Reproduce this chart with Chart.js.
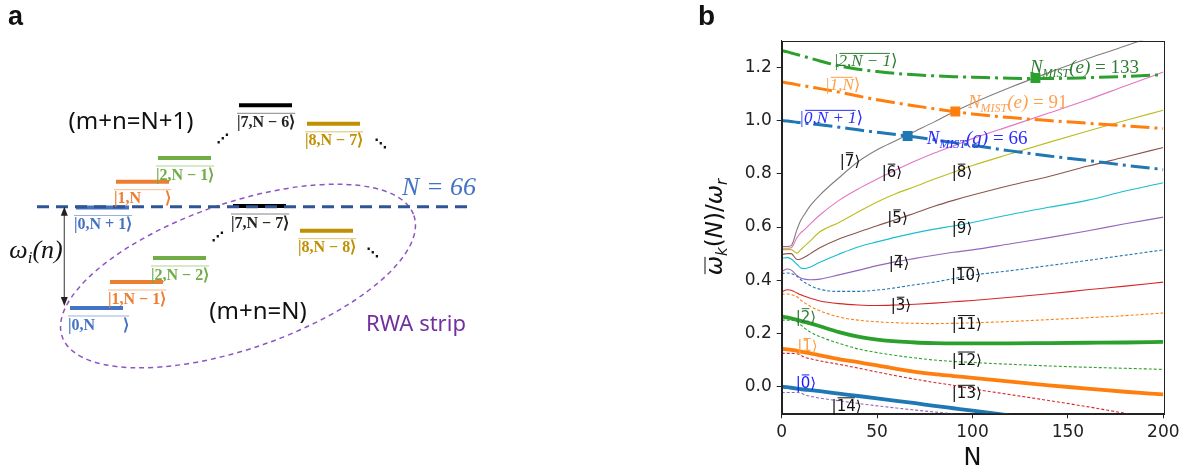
<!DOCTYPE html>
<html>
<head>
<meta charset="utf-8">
<script src="https://cdn.jsdelivr.net/npm/chart.js"></script>
<style>
  html, body { margin: 0; padding: 0; background: #fff; }
  #wrap { position: relative; width: 1192px; height: 474px; }
  #boxA { position: absolute; left: 0; top: 0; width: 680px; height: 474px; }
  #boxB { position: absolute; left: 680px; top: 0; width: 512px; height: 474px; }
</style>
</head>
<body>
<div id="wrap">
  <div id="boxA"><canvas id="diagram"></canvas></div>
  <div id="boxB"><canvas id="spectrum"></canvas></div>
</div>
<script>
// ---------- panel a: level scheme (diagram units) ----------
const upperKets  = ["|0,N + 1⟩", "|1,N      ⟩", "|2,N − 1⟩", "|7,N − 6⟩", "|8,N − 7⟩"];
const upperLevel = [26.65, 29.23, 31.6, 36.87, 35.02];
const upperSlot  = [7.6, 11.6, 15.8, 23.9, 30.7];
const lowerKets  = ["|0,N       ⟩", "|1,N − 1⟩", "|2,N − 2⟩", "|7,N − 7⟩", "|8,N − 8⟩"];
const lowerLevel = [16.6, 19.2, 21.6, 26.8, 24.33];
const lowerSlot  = [7.0, 11.0, 15.3, 23.3, 30.0];
const levelInk   = ["#4472c4", "#ed7d31", "#70ad47", "#000000", "#bf9000"];
const cutLevel   = 26.73;

// ---------- panel b: branches vs photon number ----------
const nGrid = [0, 3, 5, 8, 10, 12, 15, 20, 30, 40, 50, 60, 70, 80, 90, 100, 120, 140, 160, 180, 200];
const w0  = [0.0, -0.002, -0.004, -0.007, -0.009, -0.011, -0.013, -0.017, -0.026, -0.035, -0.044, -0.053, -0.062, -0.072, -0.081, -0.09, -0.109, -0.128, -0.147, -0.166, -0.185];
const w1  = [0.143, 0.14, 0.138, 0.135, 0.132, 0.129, 0.125, 0.118, 0.104, 0.092, 0.08, 0.067, 0.056, 0.047, 0.04, 0.033, 0.019, 0.005, -0.007, -0.019, -0.029];
const w2  = [0.264, 0.26, 0.257, 0.251, 0.247, 0.243, 0.238, 0.227, 0.205, 0.188, 0.177, 0.17, 0.166, 0.164, 0.163, 0.163, 0.163, 0.164, 0.165, 0.166, 0.168];
const w3  = [0.356, 0.364, 0.362, 0.352, 0.345, 0.34, 0.332, 0.322, 0.312, 0.307, 0.305, 0.307, 0.31, 0.314, 0.319, 0.324, 0.336, 0.349, 0.364, 0.378, 0.393];
const w4  = [0.433, 0.442, 0.438, 0.418, 0.408, 0.404, 0.402, 0.404, 0.42, 0.437, 0.455, 0.47, 0.482, 0.494, 0.505, 0.514, 0.537, 0.56, 0.585, 0.612, 0.637];
const w5  = [0.497, 0.5, 0.5, 0.478, 0.48, 0.487, 0.5, 0.522, 0.555, 0.58, 0.605, 0.628, 0.653, 0.678, 0.70, 0.72, 0.757, 0.79, 0.828, 0.863, 0.899];
const w6  = [0.52, 0.52, 0.522, 0.56, 0.578, 0.59, 0.612, 0.645, 0.70, 0.743, 0.78, 0.815, 0.848, 0.878, 0.905, 0.932, 0.98, 1.028, 1.077, 1.13, 1.182];
const w7  = [0.527, 0.527, 0.53, 0.59, 0.625, 0.648, 0.68, 0.72, 0.785, 0.845, 0.89, 0.925, 0.96, 0.995, 1.032, 1.065, 1.125, 1.18, 1.232, 1.28, 1.33];
const w8  = [0.515, 0.515, 0.515, 0.502, 0.515, 0.528, 0.548, 0.582, 0.617, 0.656, 0.694, 0.726, 0.752, 0.78, 0.806, 0.831, 0.875, 0.918, 0.96, 1.0, 1.039];
const w9  = [0.483, 0.485, 0.48, 0.46, 0.446, 0.444, 0.45, 0.468, 0.498, 0.525, 0.544, 0.562, 0.578, 0.592, 0.604, 0.617, 0.647, 0.674, 0.70, 0.735, 0.766];
const w10 = [0.425, 0.427, 0.425, 0.415, 0.402, 0.392, 0.38, 0.366, 0.358, 0.358, 0.363, 0.372, 0.383, 0.393, 0.406, 0.419, 0.436, 0.455, 0.474, 0.494, 0.514];
const w11 = [0.348, 0.348, 0.346, 0.338, 0.325, 0.315, 0.302, 0.285, 0.262, 0.25, 0.244, 0.24, 0.238, 0.237, 0.238, 0.24, 0.245, 0.252, 0.259, 0.267, 0.277];
const w12 = [0.25, 0.25, 0.25, 0.245, 0.232, 0.22, 0.205, 0.188, 0.163, 0.142, 0.128, 0.117, 0.108, 0.1, 0.095, 0.091, 0.084, 0.078, 0.073, 0.069, 0.065];
const w13 = [0.125, 0.125, 0.125, 0.124, 0.118, 0.11, 0.105, 0.097, 0.084, 0.07, 0.055, 0.041, 0.028, 0.016, 0.005, -0.008, -0.03, -0.052, -0.075, -0.1, -0.125];
const w14 = [-0.022, -0.022, -0.022, -0.022, -0.024, -0.03, -0.036, -0.043, -0.053, -0.063, -0.072, -0.08, -0.088, -0.095, -0.102, -0.108, -0.12, -0.132, -0.144, -0.156, -0.168];

// bare states shifted by one drive photon
const wBare0 = [1.0, 0.998, 0.996, 0.994, 0.992, 0.99, 0.988, 0.984, 0.975, 0.965, 0.956, 0.947, 0.938, 0.928, 0.917, 0.907, 0.886, 0.867, 0.85, 0.832, 0.816];
const wBare1 = [1.145, 1.141, 1.139, 1.135, 1.132, 1.13, 1.126, 1.12, 1.107, 1.092, 1.078, 1.066, 1.055, 1.044, 1.034, 1.025, 1.011, 1.0, 0.99, 0.98, 0.97];
const wBare2 = [1.263, 1.258, 1.254, 1.248, 1.244, 1.24, 1.234, 1.224, 1.206, 1.193, 1.184, 1.177, 1.172, 1.168, 1.165, 1.163, 1.159, 1.158, 1.161, 1.166, 1.172];

const mistN = [66, 91, 133];
const mistW = [0.942, 1.034, 1.16];
const mistTag = ["g", "e", "e"];

const xTicks = [0, 50, 100, 150, 200];
const yTicks = [0.0, 0.2, 0.4, 0.6, 0.8, 1.0, 1.2];

const branches = [w0, w1, w2, w3, w4, w5, w6, w7, w8, w9, w10, w11, w12, w13, w14];
const bareBranches = [wBare0, wBare1, wBare2];

// ---------- styles ----------
const C = {
  blue: "#1f77b4", orange: "#ff7f0e", green: "#2ca02c", red: "#d62728", purple: "#9467bd",
  brown: "#8c564b", pink: "#e377c2", gray: "#7f7f7f", olive: "#bcbd22", cyan: "#17becf"
};
const branchLook = [
  [C.blue, 3.8, []], [C.orange, 3.8, []], [C.green, 3.8, []],
  [C.red, 1.1, []], [C.purple, 1.1, []], [C.brown, 1.1, []], [C.pink, 1.1, []],
  [C.gray, 1.1, []], [C.olive, 1.1, []], [C.cyan, 1.1, []],
  [C.blue, 1.1, [3, 2]], [C.orange, 1.1, [3, 2]], [C.green, 1.1, [3, 2]],
  [C.red, 1.1, [3, 2]], [C.purple, 1.1, [3, 2]]
];
const bareLook = [C.blue, C.orange, C.green];

// rich text: parts = [{t, font, dy, bar}]
function richText(ctx, x, y, parts, align) {
  const widths = parts.map(p => { ctx.font = p.font; return ctx.measureText(p.t).width; });
  const total = widths.reduce((a, b) => a + b, 0);
  let cx = align === "center" ? x - total / 2 : (align === "right" ? x - total : x);
  ctx.textAlign = "left";
  ctx.textBaseline = "alphabetic";
  parts.forEach((p, i) => {
    ctx.font = p.font;
    const by = y + (p.dy || 0);
    ctx.fillText(p.t, cx, by);
    if (p.bar) {
      ctx.save();
      ctx.lineWidth = 1;
      ctx.strokeStyle = ctx.fillStyle;
      ctx.beginPath();
      ctx.moveTo(cx + 1, by - p.bar);
      ctx.lineTo(cx + widths[i] - 1, by - p.bar);
      ctx.stroke();
      ctx.restore();
    }
    cx += widths[i];
  });
  return total;
}

// ---------- panel a ----------
const levelSets = [];
[[upperLevel, upperSlot], [lowerLevel, lowerSlot]].forEach(([lev, slot]) => {
  lev.forEach((e, i) => {
    levelSets.push({
      data: [{ x: slot[i], y: e }, { x: slot[i] + 5.3, y: e }],
      borderColor: levelInk[i], borderWidth: 4, pointRadius: 0, order: 1
    });
  });
});

const diagramDecor = {
  id: "diagramDecor",
  beforeDatasetsDraw(chart) {
    const { ctx, scales: { x, y } } = chart;
    // RWA strip outline
    ctx.save();
    ctx.strokeStyle = "#8e55c4";
    ctx.lineWidth = 1.5;
    ctx.setLineDash([5, 4]);
    ctx.beginPath();
    ctx.ellipse(x.getPixelForValue(23.8), y.getPixelForValue(19.8), 186, 73, -19 * Math.PI / 180, 0, 2 * Math.PI);
    ctx.stroke();
    ctx.restore();
  },
  afterDatasetsDraw(chart) {
    const { ctx, scales: { x, y } } = chart;
    const px = v => x.getPixelForValue(v), py = v => y.getPixelForValue(v);
    ctx.save();

    // arrow heads of the ω_i(n) gap
    const ax = px(6.43);
    ctx.fillStyle = "#222";
    ctx.beginPath();
    ctx.moveTo(ax, py(cutLevel)); ctx.lineTo(ax - 3.5, py(cutLevel) + 9); ctx.lineTo(ax + 3.5, py(cutLevel) + 9);
    ctx.fill();
    ctx.beginPath();
    ctx.moveTo(ax, py(lowerLevel[0]) - 2); ctx.lineTo(ax - 3.5, py(lowerLevel[0]) - 11); ctx.lineTo(ax + 3.5, py(lowerLevel[0]) - 11);
    ctx.fill();

    // kets under each level
    const kets = [[upperKets, upperLevel, upperSlot], [lowerKets, lowerLevel, lowerSlot]];
    kets.forEach(([names, lev, slot]) => {
      names.forEach((s, i) => {
        const lx = px(slot[i]) - 2, ly = py(lev[i]);
        ctx.font = 'bold 16px "Liberation Serif"';
        const w = ctx.measureText(s).width;
        ctx.fillStyle = levelInk[i] === "#000000" ? "#222" : levelInk[i];
        ctx.fillText(s, lx, ly + 21.5);
        ctx.globalAlpha = 0.55;
        ctx.strokeStyle = ctx.fillStyle;
        ctx.lineWidth = 1;
        ctx.beginPath(); ctx.moveTo(lx, ly + 8); ctx.lineTo(lx + w, ly + 8); ctx.stroke();
        ctx.globalAlpha = 1;
      });
    });

    ctx.fillStyle = "#111";
    ctx.textAlign = "center";
    ctx.textBaseline = "middle";
    ctx.font = '24px "Noto Sans"';
    ctx.fillText("(m+n=N+1)", px(13.1), py(35.2));
    ctx.fillText("(m+n=N)", px(25.8), py(16.2));
    ctx.font = 'bold 13px "DejaVu Sans"';
    ctx.fillText("⋰", px(22.3), py(33.4));
    ctx.fillText("⋱", px(38.1), py(32.9));
    ctx.fillText("⋰", px(21.8), py(23.6));
    ctx.fillText("⋱", px(37.3), py(22.0));

    ctx.fillStyle = "#7030a0";
    ctx.font = '22px "Noto Sans"';
    ctx.fillText("RWA strip", px(41.6), py(14.9));

    ctx.fillStyle = "#4472c4";
    ctx.font = 'italic 26px "Liberation Serif"';
    ctx.fillText("N = " + mistN[0], px(43.9), py(28.6));

    ctx.fillStyle = "#111";
    richText(ctx, px(3.6), py(22.4) + 8, [
      { t: "ω", font: 'italic 26px "Liberation Serif"' },
      { t: "i", font: 'italic 17px "Liberation Serif"', dy: 5 },
      { t: "(n)", font: 'italic 26px "Liberation Serif"' }
    ], "center");

    ctx.textAlign = "left";
    ctx.textBaseline = "alphabetic";
    ctx.font = 'bold 27px "Liberation Sans"';
    ctx.fillText("a", 8, 25);
    ctx.restore();
  }
};

new Chart(document.getElementById("diagram"), {
  type: "line",
  data: {
    datasets: [
      ...levelSets,
      { data: [{ x: 3.7, y: cutLevel }, { x: 47.0, y: cutLevel }], borderColor: "#2f5597",
        borderWidth: 3, borderDash: [12, 7], pointRadius: 0, order: 0 },
      { data: [{ x: 6.43, y: cutLevel - 0.6 }, { x: 6.43, y: lowerLevel[0] + 0.9 }], borderColor: "#555",
        borderWidth: 1.2, pointRadius: 0, order: 2 }
    ]
  },
  options: {
    responsive: true, maintainAspectRatio: false, animation: false, devicePixelRatio: 1,
    layout: { padding: 0 },
    plugins: { legend: { display: false }, tooltip: { enabled: false } },
    scales: {
      x: { type: "linear", min: 0, max: 68, display: false },
      y: { type: "linear", min: 0, max: 47.4, display: false }
    }
  },
  plugins: [diagramDecor]
});

// ---------- panel b ----------
const ketSpots = [
  [12.7, 0.016], [13.5, 0.153], [12.7, 0.265], [62.5, 0.308], [61.5, 0.465],
  [60.7, 0.636], [57.8, 0.808], [35.8, 0.851], [94.5, 0.808], [94.5, 0.60],
  [96.6, 0.42], [97, 0.239], [97, 0.102], [97, -0.023], [34, -0.07]
];
const ketInk = ["#1a1aff", "#ffa04d", "#2e7d32"];
const bareKets = ["0,N + 1", "1,N", "2,N − 1"];
const bareSpots = [[26, 1.012], [32, 1.136], [44, 1.226]];
const bareInk = ["#2b2bff", "#ffa050", "#2e7d32"];
const mistSpots = [[76, 0.934], [97.6, 1.07], [130.1, 1.2]];

const spectrumDecor = {
  id: "spectrumDecor",
  afterDatasetsDraw(chart) {
    const { ctx, chartArea: a, scales: { x, y } } = chart;
    const px = v => x.getPixelForValue(v), py = v => y.getPixelForValue(v);
    ctx.save();
    ctx.strokeStyle = "#222";
    ctx.lineWidth = 1;
    ctx.strokeRect(Math.round(a.left) + 0.5, Math.round(a.top) + 0.5, Math.round(a.right - a.left), Math.round(a.bottom - a.top));

    // dressed-state labels
    branches.forEach((_, k) => {
      const [n, w] = ketSpots[k];
      ctx.fillStyle = ketInk[k] || "#111";
      richText(ctx, px(n), py(w) + 5.5, [
        { t: "|", font: '15px "DejaVu Sans"' },
        { t: String(k), font: '15px "DejaVu Sans"', bar: 13 },
        { t: "⟩", font: '15px "DejaVu Sans"' }
      ], "center");
    });

    // bare-state labels
    bareKets.forEach((s, i) => {
      const [n, w] = bareSpots[i];
      ctx.fillStyle = bareInk[i];
      richText(ctx, px(n), py(w) + 6, [
        { t: "|", font: 'italic 17px "Liberation Serif"' },
        { t: s, font: 'italic 17px "Liberation Serif"', bar: 13 },
        { t: "⟩", font: '17px "DejaVu Sans"' }
      ], "center");
    });

    // crossing annotations
    mistN.forEach((n, i) => {
      const [sx, sy] = mistSpots[i];
      ctx.fillStyle = bareInk[i];
      richText(ctx, px(sx), py(sy) + 6, [
        { t: "N", font: 'italic 19px "Liberation Serif"' },
        { t: "MIST", font: 'italic 12px "Liberation Serif"', dy: 4 },
        { t: "(" + mistTag[i] + ")", font: 'italic 19px "Liberation Serif"' },
        { t: " = " + n, font: '19px "Liberation Serif"' }
      ], "left");
    });

    // axis titles
    ctx.fillStyle = "#111";
    ctx.textAlign = "center";
    ctx.textBaseline = "middle";
    ctx.font = '24px "DejaVu Sans"';
    ctx.fillText("N", (a.left + a.right) / 2, 459);

    ctx.save();
    ctx.translate(35, (a.top + a.bottom) / 2);
    ctx.rotate(-Math.PI / 2);
    richText(ctx, 0, 7, [
      { t: "ω", font: 'italic 23px "DejaVu Sans"', bar: 17 },
      { t: "k", font: 'italic 15px "DejaVu Sans"', dy: 5 },
      { t: "(", font: '23px "DejaVu Sans"' },
      { t: "N", font: 'italic 23px "DejaVu Sans"' },
      { t: ")/", font: '23px "DejaVu Sans"' },
      { t: "ω", font: 'italic 23px "DejaVu Sans"' },
      { t: "r", font: 'italic 15px "DejaVu Sans"', dy: 5 }
    ], "center");
    ctx.restore();

    ctx.textAlign = "left";
    ctx.textBaseline = "alphabetic";
    ctx.font = 'bold 28px "Liberation Sans"';
    ctx.fillText("b", 18, 25);
    ctx.restore();
  }
};

const branchSets = branches.map((vals, k) => ({
  data: nGrid.map((n, i) => ({ x: n, y: vals[i] })),
  borderColor: branchLook[k][0], borderWidth: branchLook[k][1], borderDash: branchLook[k][2],
  pointRadius: 0, cubicInterpolationMode: "monotone", clip: 0, order: k < 3 ? 2 : 3
}));
const bareSets = bareBranches.map((vals, k) => ({
  data: nGrid.map((n, i) => ({ x: n, y: vals[i] })),
  borderColor: bareLook[k], borderWidth: 3, borderDash: [19, 5, 3, 5],
  pointRadius: 0, cubicInterpolationMode: "monotone", clip: 0, order: 1
}));

new Chart(document.getElementById("spectrum"), {
  type: "line",
  data: {
    datasets: [
      ...branchSets,
      ...bareSets,
      { data: mistN.map((n, i) => ({ x: n, y: mistW[i] })), showLine: false,
        pointStyle: "rect", pointRadius: 7, pointBorderWidth: 0,
        pointBackgroundColor: bareLook, order: 0 }
    ]
  },
  options: {
    responsive: true, maintainAspectRatio: false, animation: false, devicePixelRatio: 1,
    layout: { padding: { top: 40.7, right: 28.7, left: 0, bottom: 0 } },
    plugins: { legend: { display: false }, tooltip: { enabled: false } },
    scales: {
      x: {
        type: "linear", min: 0, max: 200,
        afterBuildTicks: s => { s.ticks = xTicks.map(v => ({ value: v })); },
        afterFit: s => { s.height = 60.7; },
        ticks: { font: { family: "DejaVu Sans", size: 17 }, color: "#222", padding: 4, maxRotation: 0 },
        grid: { drawOnChartArea: false, tickLength: 5, color: "#222" },
        border: { color: "#222" }
      },
      y: {
        type: "linear", min: -0.1, max: 1.3,
        afterBuildTicks: s => { s.ticks = yTicks.map(v => ({ value: v })); },
        afterFit: s => { s.width = 101.7; },
        ticks: { callback: v => v.toFixed(1), font: { family: "DejaVu Sans", size: 17 }, color: "#222", padding: 5 },
        grid: { drawOnChartArea: false, tickLength: 5, color: "#222" },
        border: { color: "#222" }
      }
    }
  },
  plugins: [spectrumDecor]
});
</script>
</body>
</html>
